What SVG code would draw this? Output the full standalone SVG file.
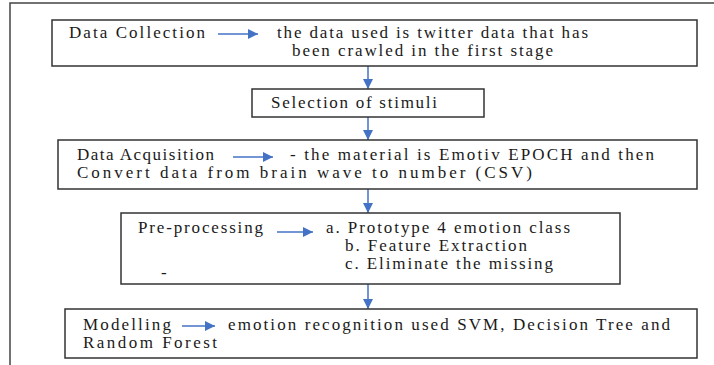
<svg xmlns="http://www.w3.org/2000/svg" width="714" height="365" viewBox="0 0 714 365">
  <defs>
    <marker id="head" viewBox="0 0 10 10" refX="10" refY="5" markerWidth="10" markerHeight="10" markerUnits="userSpaceOnUse" orient="auto">
      <path d="M0,0 L10,5 L0,10 z" fill="#4472c4"/>
    </marker>
    <marker id="headv" viewBox="0 0 10 10" refX="10" refY="5" markerWidth="10" markerHeight="12" markerUnits="userSpaceOnUse" orient="auto">
      <path d="M0,0 L10,5 L0,10 z" fill="#4472c4"/>
    </marker>
  </defs>
  <style>
    .frame { fill: none; stroke: #444; stroke-width: 1.5; }
    .box { fill: #fff; stroke: #333; stroke-width: 1.5; }
    .t { font-size: 17px; fill: #1a1a1a; }
    .link { fill: none; stroke: #4472c4; stroke-width: 1.5; }
  </style>
  <rect width="714" height="365" fill="#fff"/>

  <!-- outer frame, open to the right and bottom -->
  <path class="frame" d="M10,365 V3 H714"/>

  <g id="connectors">
    <line class="link" x1="368" y1="66" x2="368" y2="89" marker-end="url(#headv)"/>
    <line class="link" x1="368" y1="117" x2="368" y2="140" marker-end="url(#headv)"/>
    <line class="link" x1="368" y1="189" x2="368" y2="213" marker-end="url(#headv)"/>
    <line class="link" x1="368" y1="284" x2="368" y2="309" marker-end="url(#headv)"/>
  </g>

  <g font-family="Liberation Serif, Times New Roman, Times, serif">
  <g id="data-collection">
    <rect class="box" x="52" y="20" width="645" height="46"/>
    <text class="t" x="69" y="38" textLength="136" lengthAdjust="spacing">Data Collection</text>
    <line class="link" x1="218" y1="34" x2="258" y2="34" marker-end="url(#head)"/>
    <text class="t" x="277" y="38" textLength="311" lengthAdjust="spacing">the data used is twitter data that has</text>
    <text class="t" x="292" y="56" textLength="261" lengthAdjust="spacing">been crawled in the first stage</text>
  </g>

  <g id="selection">
    <rect class="box" x="252" y="89" width="232" height="28"/>
    <text class="t" x="271" y="108" textLength="166" lengthAdjust="spacing">Selection of stimuli</text>
  </g>

  <g id="data-acquisition">
    <rect class="box" x="58" y="140" width="639" height="49"/>
    <text class="t" x="77" y="160" textLength="137" lengthAdjust="spacing">Data Acquisition</text>
    <line class="link" x1="233" y1="157" x2="273" y2="157" marker-end="url(#head)"/>
    <text class="t" x="290" y="160" textLength="364" lengthAdjust="spacing">- the material is Emotiv EPOCH and then</text>
    <text class="t" x="77" y="178" textLength="455" lengthAdjust="spacing">Convert data from brain wave to number (CSV)</text>
  </g>

  <g id="pre-processing">
    <rect class="box" x="121" y="213" width="499" height="71"/>
    <text class="t" x="138" y="233" textLength="125" lengthAdjust="spacing">Pre-processing</text>
    <line class="link" x1="277" y1="232" x2="313" y2="232" marker-end="url(#head)"/>
    <text class="t" x="326" y="233" textLength="244" lengthAdjust="spacing">a. Prototype 4 emotion class</text>
    <text class="t" x="345" y="251" textLength="182" lengthAdjust="spacing">b. Feature Extraction</text>
    <text class="t" x="345" y="269" textLength="208" lengthAdjust="spacing">c. Eliminate the missing</text>
    <text class="t" x="161" y="278">-</text>
  </g>

  <g id="modelling">
    <rect class="box" x="65" y="309" width="632" height="49"/>
    <text class="t" x="83" y="330" textLength="88" lengthAdjust="spacing">Modelling</text>
    <line class="link" x1="182" y1="326" x2="215" y2="326" marker-end="url(#head)"/>
    <text class="t" x="228" y="330" textLength="442" lengthAdjust="spacing">emotion recognition used SVM, Decision Tree and</text>
    <text class="t" x="83" y="348" textLength="134" lengthAdjust="spacing">Random Forest</text>
  </g>
  </g>
</svg>
